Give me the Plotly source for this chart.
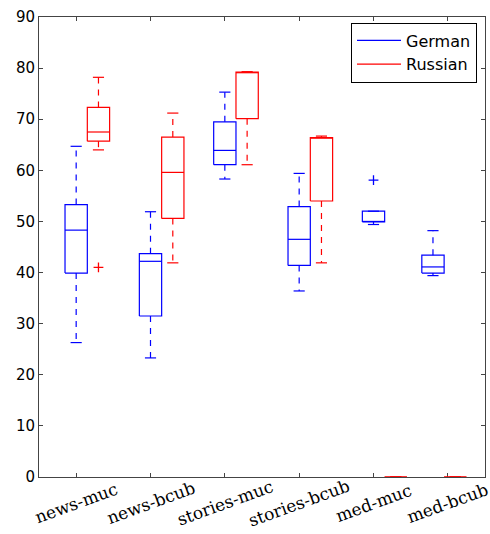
import plotly.graph_objects as go

# ---------------- data ----------------
categories = ["news-muc", "news-bcub", "stories-muc", "stories-bcub", "med-muc", "med-bcub"]

german_whislo = [26.3, 23.3, 58.3, 36.4, 49.4, 39.4]
german_q1 = [39.9, 31.5, 61.1, 41.4, 49.9, 39.9]
german_med = [48.3, 42.2, 63.9, 46.5, 50.0, 41.1]
german_q3 = [53.3, 43.7, 69.5, 52.9, 52.0, 43.4]
german_whishi = [64.7, 51.9, 75.3, 59.4, 52.0, 48.2]
german_outliers = [[], [], [], [], [58.1], []]

russian_whislo = [64.0, 41.9, 61.1, 41.9, 0.0, 0.0]
russian_q1 = [65.7, 50.6, 70.1, 54.0, 0.0, 0.0]
russian_med = [67.5, 59.6, 79.1, 66.3, 0.0, 0.0]
russian_q3 = [72.3, 66.5, 79.2, 66.4, 0.0, 0.0]
russian_whishi = [78.2, 71.2, 79.3, 66.7, 0.0, 0.0]
russian_outliers = [[41.0], [], [], [], [], []]

# ---------------- layout constants ----------------
tick_pos = [1, 2, 3, 4, 5, 6]
german_pos = [1, 2, 3, 4, 5, 5.8]
russian_offset = 0.3
box_half = 0.15
cap_half = 0.075


def box_traces(name, color, pos, lo, q1, med, q3, hi, outliers):
    bx, by = [], []
    wx, wy = [], []
    ox, oy = [], []
    for p, a, b, m, c, d, outs in zip(pos, lo, q1, med, q3, hi, outliers):
        l, r = p - box_half, p + box_half
        bx += [l, r, r, l, l, None]
        by += [b, b, c, c, b, None]
        bx += [l, r, None]
        by += [m, m, None]
        bx += [p - cap_half, p + cap_half, None, p - cap_half, p + cap_half, None]
        by += [d, d, None, a, a, None]
        wx += [p, p, None, p, p, None]
        wy += [c, d, None, b, a, None]
        for o in outs:
            ox.append(p)
            oy.append(o)
    traces = [
        go.Scatter(x=bx, y=by, mode="lines", name=name,
                   line=dict(color=color, width=1.2), hoverinfo="skip"),
        go.Scatter(x=wx, y=wy, mode="lines", showlegend=False,
                   line=dict(color=color, width=1.2, dash="6px,6px"), hoverinfo="skip"),
    ]
    if ox:
        traces.append(go.Scatter(x=ox, y=oy, mode="markers", showlegend=False,
                                 marker=dict(symbol="cross-thin", size=7,
                                             line=dict(color=color, width=1.3)),
                                 hoverinfo="skip"))
    return traces


fig = go.Figure()
for t in box_traces("German", "#0000ff", german_pos, german_whislo, german_q1,
                    german_med, german_q3, german_whishi, german_outliers):
    fig.add_trace(t)
russian_pos = [p + russian_offset for p in german_pos]
for t in box_traces("Russian", "#ff0000", russian_pos, russian_whislo, russian_q1,
                    russian_med, russian_q3, russian_whishi, russian_outliers):
    fig.add_trace(t)

for p, c in zip(tick_pos, categories):
    fig.add_annotation(x=p, y=0, xref="x", yref="paper", text=c, showarrow=False,
                       textangle=-20, xanchor="center", yanchor="middle", yshift=-26,
                       font=dict(family="DejaVu Serif", size=17, color="black"))

axis_common = dict(showline=True, linecolor="#444444", linewidth=1, mirror="ticks",
                   ticks="inside", ticklen=4, tickcolor="#444444", tickwidth=1,
                   showgrid=False, zeroline=False, automargin=False)

fig.update_layout(
    width=490, height=534,
    margin=dict(l=39, r=5, t=17, b=57),
    paper_bgcolor="white", plot_bgcolor="white",
    font=dict(family="DejaVu Sans", size=15, color="black"),
    xaxis=dict(range=[0.5, 6.5], tickvals=tick_pos, showticklabels=False,
               layer="below traces", **axis_common),
    yaxis=dict(range=[0, 90], tickvals=list(range(0, 91, 10)), layer="below traces",
               tickfont=dict(family="DejaVu Sans", size=15, color="black"),
               **axis_common),
    showlegend=True,
    legend=dict(x=(477 - 39) / 446, y=(477.5 - 23) / 460, xanchor="right", yanchor="top",
                bordercolor="black", borderwidth=1, bgcolor="white",
                font=dict(family="DejaVu Sans", size=16, color="black"),
                itemwidth=44),
)

fig.write_html("out.html", config={"displayModeBar": False},
               post_script="document.body.style.margin='0px';")
